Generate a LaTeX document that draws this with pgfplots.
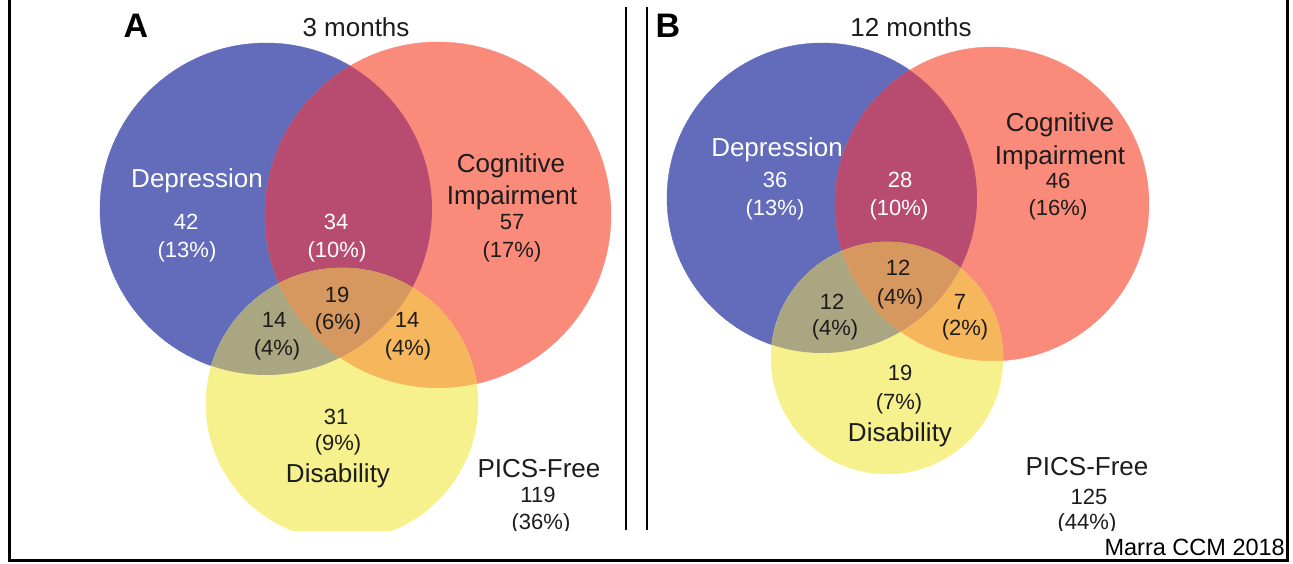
\documentclass[border=0pt]{standalone}
\usepackage{pgfplots}
\pgfplotsset{compat=1.18}
\usepackage{fontspec}
\setmainfont{Liberation Sans}

\definecolor{cdep}{RGB}{98,108,186}
\definecolor{ccog}{RGB}{250,139,123}
\definecolor{cdis}{RGB}{246,241,141}
\definecolor{cdepcog}{RGB}{183,76,112}
\definecolor{cdepdis}{RGB}{170,166,130}
\definecolor{ccogdis}{RGB}{246,182,92}
\definecolor{call}{RGB}{214,152,95}
\definecolor{ink}{RGB}{28,28,28}

\tikzset{
  lab/.style={font=\fontsize{26}{30}\selectfont, inner sep=0pt, text height=18.6pt, text depth=0pt, anchor=center, text=ink},
  num/.style={font=\fontsize{22}{26}\selectfont, inner sep=0pt, text height=15.8pt, text depth=0pt, anchor=center, text=ink},
  panel/.style={font=\bfseries\fontsize{34}{38}\selectfont, inner sep=0pt, text height=24.3pt, text depth=0pt, anchor=center, text=black},
}
\pgfplotsset{circ/.style={only marks, mark=*, mark options={draw=none}}}

\begin{document}
\begin{tikzpicture}
\useasboundingbox (0,0) rectangle (1293pt,563pt);

% frame and separator
\begin{axis}[at={(0pt,0pt)}, anchor=south west, scale only axis,
  width=1293pt, height=563pt, xmin=0, xmax=1293, ymin=0, ymax=563,
  hide axis, clip=false]
\addplot[black, line width=3pt] coordinates {(9,563) (9,3) (1287,3) (1287,563)};
\addplot[black, line width=2pt] coordinates {(626,556) (626,33)};
\addplot[black, line width=2pt] coordinates {(647,556) (647,33)};
\node[num, font=\fontsize{23.5}{27}\selectfont, text=black, anchor=east] at (axis cs:1285,15) {Marra CCM 2018};
\end{axis}

% the two Venn diagrams
\begin{axis}[at={(9pt,33pt)}, anchor=south west, scale only axis,
  width=1278pt, height=530pt, xmin=9, xmax=1287, ymin=33, ymax=563,
  hide axis, clip marker paths=true]
% ---- A: 3 months
\addplot[circ, mark size=166pt, color=cdep] coordinates {(266,354)};
\addplot[circ, mark size=173pt, color=ccog] coordinates {(438,348)};
\addplot[circ, mark size=136pt, color=cdis] coordinates {(342,159)};
\begin{scope}
  \clip (axis cs:266,354) circle [radius=166];
  \addplot[circ, mark size=173pt, color=cdepcog] coordinates {(438,348)};
  \addplot[circ, mark size=136pt, color=cdepdis] coordinates {(342,159)};
\end{scope}
\begin{scope}
  \clip (axis cs:438,348) circle [radius=173];
  \addplot[circ, mark size=136pt, color=ccogdis] coordinates {(342,159)};
\end{scope}
\begin{scope}
  \clip (axis cs:266,354) circle [radius=166];
  \clip (axis cs:438,348) circle [radius=173];
  \addplot[circ, mark size=136pt, color=call] coordinates {(342,159)};
\end{scope}
% ---- B: 12 months
\addplot[circ, mark size=155pt, color=cdep] coordinates {(822,365)};
\addplot[circ, mark size=157pt, color=ccog] coordinates {(992,359)};
\addplot[circ, mark size=116pt, color=cdis] coordinates {(887,205)};
\begin{scope}
  \clip (axis cs:822,365) circle [radius=155];
  \addplot[circ, mark size=157pt, color=cdepcog] coordinates {(992,359)};
  \addplot[circ, mark size=116pt, color=cdepdis] coordinates {(887,205)};
\end{scope}
\begin{scope}
  \clip (axis cs:992,359) circle [radius=157];
  \addplot[circ, mark size=116pt, color=ccogdis] coordinates {(887,205)};
\end{scope}
\begin{scope}
  \clip (axis cs:822,365) circle [radius=155];
  \clip (axis cs:992,359) circle [radius=157];
  \addplot[circ, mark size=116pt, color=call] coordinates {(887,205)};
\end{scope}

% ---- labels A
\node[panel] at (axis cs:136,538) {A};
\node[lab] at (axis cs:356,536) {3 months};
\node[lab, text=white] at (axis cs:197,385) {Depression};
\node[num, text=white] at (axis cs:186,341) {42};
\node[num, text=white] at (axis cs:187,313) {(13\%)};
\node[num, text=white] at (axis cs:336,341) {34};
\node[num, text=white] at (axis cs:337,313) {(10\%)};
\node[lab] at (axis cs:511,400) {Cognitive};
\node[lab] at (axis cs:512,368) {Impairment};
\node[num] at (axis cs:512,341) {57};
\node[num] at (axis cs:512,313) {(17\%)};
\node[num] at (axis cs:337,268) {19};
\node[num] at (axis cs:338,241) {(6\%)};
\node[num] at (axis cs:274,243) {14};
\node[num] at (axis cs:277,215) {(4\%)};
\node[num] at (axis cs:407,243) {14};
\node[num] at (axis cs:408,215) {(4\%)};
\node[num] at (axis cs:336,146) {31};
\node[num] at (axis cs:338,120) {(9\%)};
\node[lab] at (axis cs:338,90) {Disability};
\node[lab] at (axis cs:539,95) {PICS-Free};
\node[num] at (axis cs:538,68) {119};
\node[num] at (axis cs:541,41) {(36\%)};

% ---- labels B
\node[panel] at (axis cs:668,538) {B};
\node[lab] at (axis cs:911,536) {12 months};
\node[lab, text=white] at (axis cs:777,416) {Depression};
\node[num, text=white] at (axis cs:775,383) {36};
\node[num, text=white] at (axis cs:775,355) {(13\%)};
\node[num, text=white] at (axis cs:900,383) {28};
\node[num, text=white] at (axis cs:899,355) {(10\%)};
\node[lab] at (axis cs:1060,441) {Cognitive};
\node[lab] at (axis cs:1060,408) {Impairment};
\node[num] at (axis cs:1058,382) {46};
\node[num] at (axis cs:1058,355) {(16\%)};
\node[num] at (axis cs:898,295) {12};
\node[num] at (axis cs:900,266) {(4\%)};
\node[num] at (axis cs:832,261) {12};
\node[num] at (axis cs:835,235) {(4\%)};
\node[num] at (axis cs:960,261) {7};
\node[num] at (axis cs:965,235) {(2\%)};
\node[num] at (axis cs:900,190) {19};
\node[num] at (axis cs:899,161) {(7\%)};
\node[lab] at (axis cs:900,131) {Disability};
\node[lab] at (axis cs:1087,97) {PICS-Free};
\node[num] at (axis cs:1089,66) {125};
\node[num] at (axis cs:1087,41) {(44\%)};
\end{axis}
\end{tikzpicture}
\end{document}
